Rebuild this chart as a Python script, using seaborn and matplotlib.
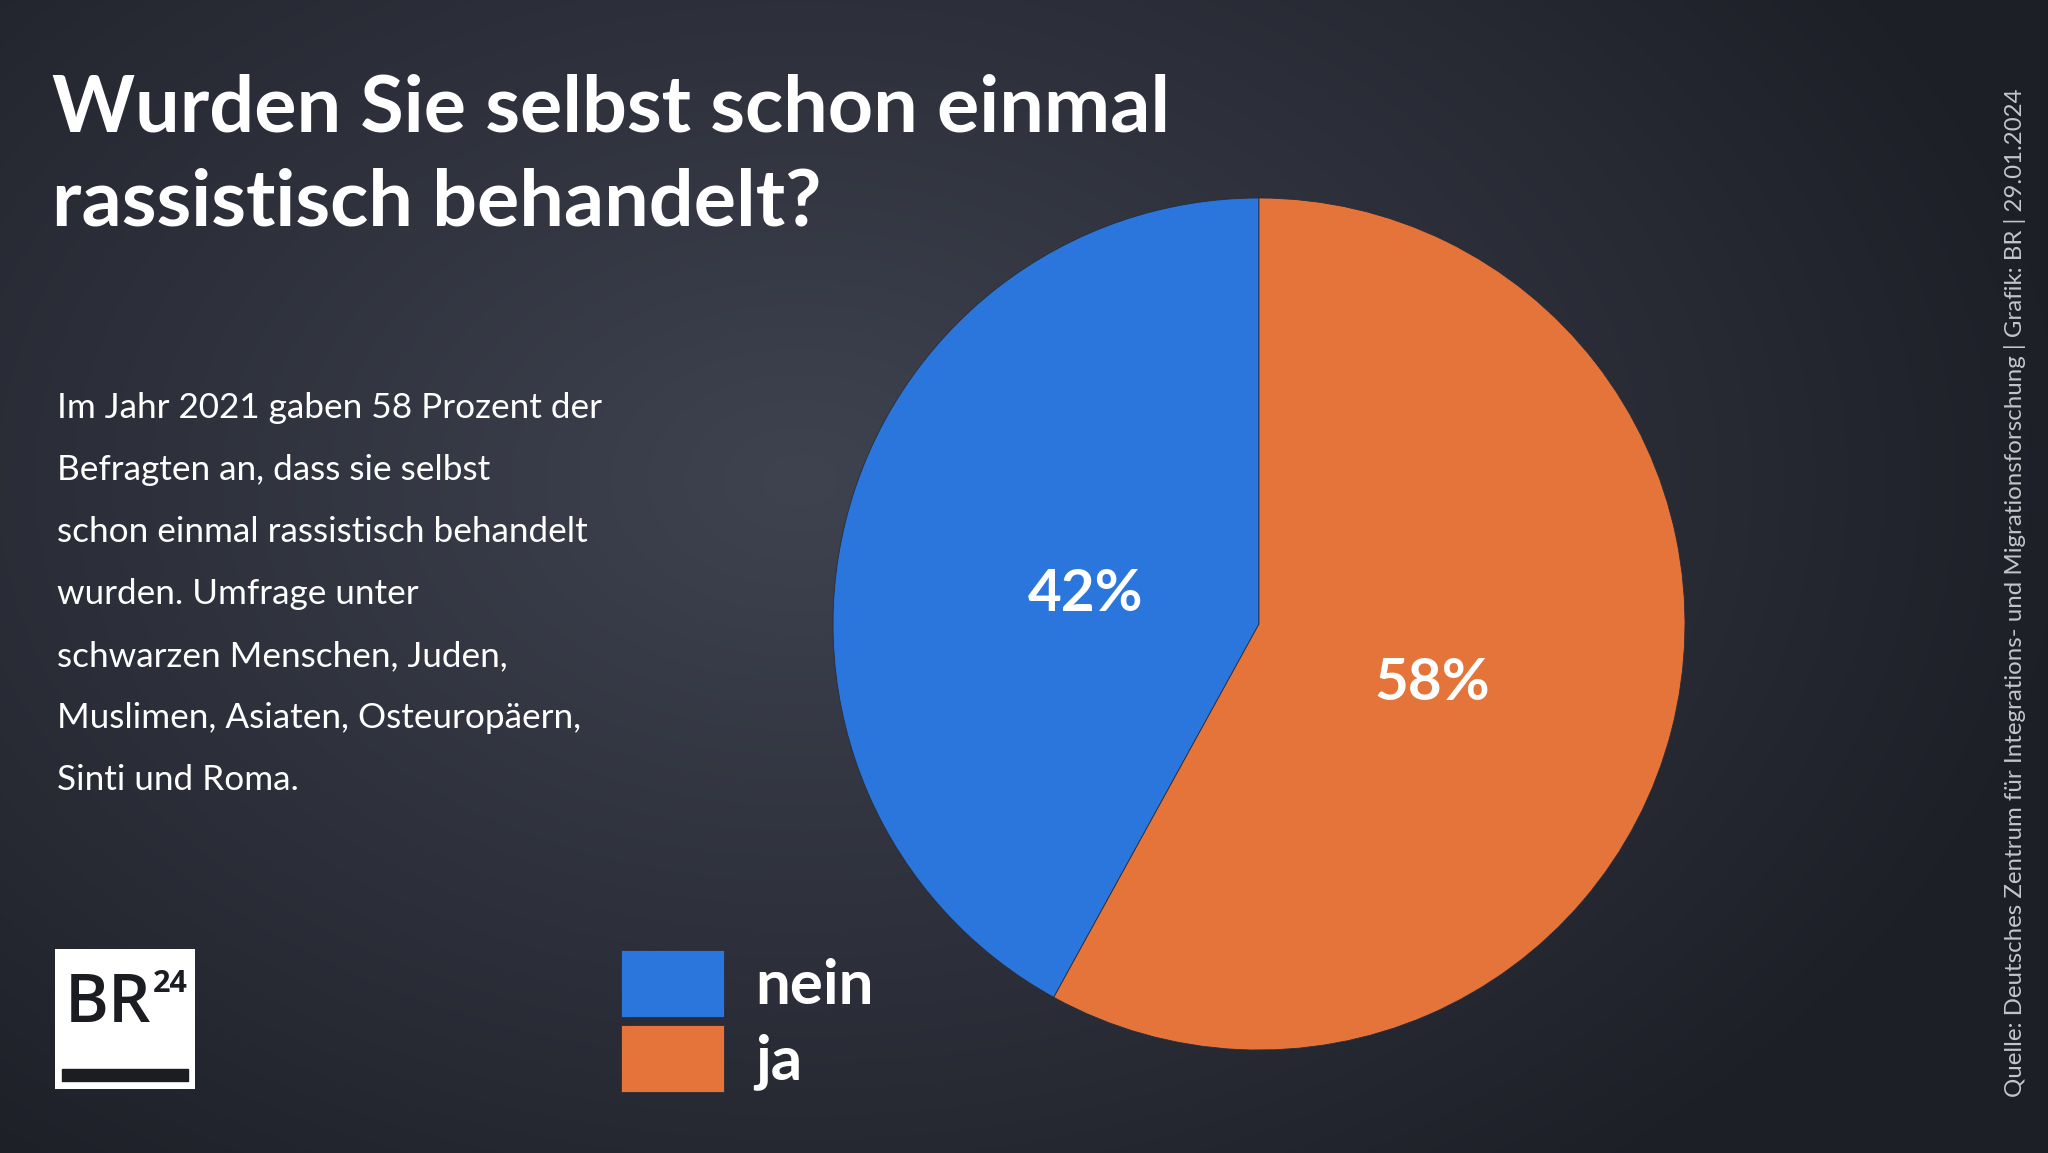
import numpy as np
import matplotlib
matplotlib.use("Agg")
import matplotlib.pyplot as plt
import seaborn as sns

# Data
labels = ["nein", "ja"]
shares = [42, 58]
colors = ["#2a76dd", "#e5743a"]

title_lines = ["Wurden Sie selbst schon einmal", "rassistisch behandelt?"]
body_lines = [
    "Im Jahr 2021 gaben 58 Prozent der",
    "Befragten an, dass sie selbst",
    "schon einmal rassistisch behandelt",
    "wurden. Umfrage unter",
    "schwarzen Menschen, Juden,",
    "Muslimen, Asiaten, Osteuropäern,",
    "Sinti und Roma.",
]
source = "Quelle: Deutsches Zentrum für Integrations- und Migrationsforschung | Grafik: BR | 29.01.2024"

sns.set_style("white")
plt.rcParams["font.family"] = ["Lato", "DejaVu Sans"]

W, H = 2048, 1153
fig = plt.figure(figsize=(W / 100, H / 100), dpi=100)

# background radial gradient
bg = fig.add_axes([0, 0, 1, 1])
yy, xx = np.mgrid[0:H, 0:W]
d = np.sqrt(((xx - 800) / 1300) ** 2 + ((yy - 480) / 900) ** 2)
d = np.clip(d, 0, 1)
c_in = np.array([0x3f, 0x43, 0x50]) / 255
c_out = np.array([0x1d, 0x1f, 0x27]) / 255
img = c_in[None, None, :] * (1 - d[..., None]) + c_out[None, None, :] * d[..., None]
bg.imshow(img, extent=[0, W, H, 0], aspect="auto")
bg.set_xlim(0, W)
bg.set_ylim(H, 0)
bg.axis("off")

# pie
cx, cy, r = 1259, 624, 426
ax = fig.add_axes([(cx - r) / W, (H - cy - r) / H, 2 * r / W, 2 * r / H])
wedges, _, autotexts = ax.pie(
    shares, colors=colors, startangle=90, counterclock=True,
    autopct="%d%%", pctdistance=0.42,
    wedgeprops=dict(linewidth=0.6, edgecolor="#2a2d38"),
    textprops=dict(color="white", fontsize=42, fontweight="bold"),
)
for t in autotexts:
    x, y = t.get_position()
    t.set_position((x, y - 0.035))
ax.set_xlim(-1, 1)
ax.set_ylim(-1, 1)
ax.set_aspect("equal")
ax.axis("off")

# title
for i, line in enumerate(title_lines):
    fig.text(52 / W, 1 - (131 + 94 * i) / H, line, color="white",
             fontsize=57, fontweight="bold", va="baseline", ha="left")

# description
for i, line in enumerate(body_lines):
    fig.text(57 / W, 1 - (418 + 62 * i) / H, line, color="white",
             fontsize=25.3, va="baseline", ha="left")

# legend
leg = ax.legend(wedges, labels, loc="upper left",
                bbox_to_anchor=(621 / W, 1 - 950 / H), bbox_transform=fig.transFigure,
                frameon=False, fontsize=44.5, handlelength=1.67, handleheight=1.3,
                handletextpad=0.5, labelspacing=0.12, borderpad=0, borderaxespad=0)
for t in leg.get_texts():
    t.set_color("white")
    t.set_fontweight("bold")

# source text
fig.text(2015 / W, 1 - 1097 / H, source, color="#c3c5cc", fontsize=17.3,
         rotation=90, ha="center", va="bottom")

# logo
lg = fig.add_axes([55 / W, 1 - 1089 / H, 140 / W, 140 / H])
lg.set_xlim(0, 140)
lg.set_ylim(0, 140)
lg.add_patch(plt.Rectangle((0, 0), 140, 140, color="white"))
lg.add_patch(plt.Rectangle((7, 8), 126, 12, color="#1c1d22"))
lg.text(10, 67, "BR", fontsize=48, fontweight="semibold", color="#1c1d22",
        ha="left", va="baseline", family=["Open Sans", "DejaVu Sans"])
lg.text(98, 97, "24", fontsize=22, fontweight="bold", color="#1c1d22",
        ha="left", va="baseline", family=["Open Sans", "DejaVu Sans"])
lg.axis("off")

fig.savefig("out.png", dpi=100)
